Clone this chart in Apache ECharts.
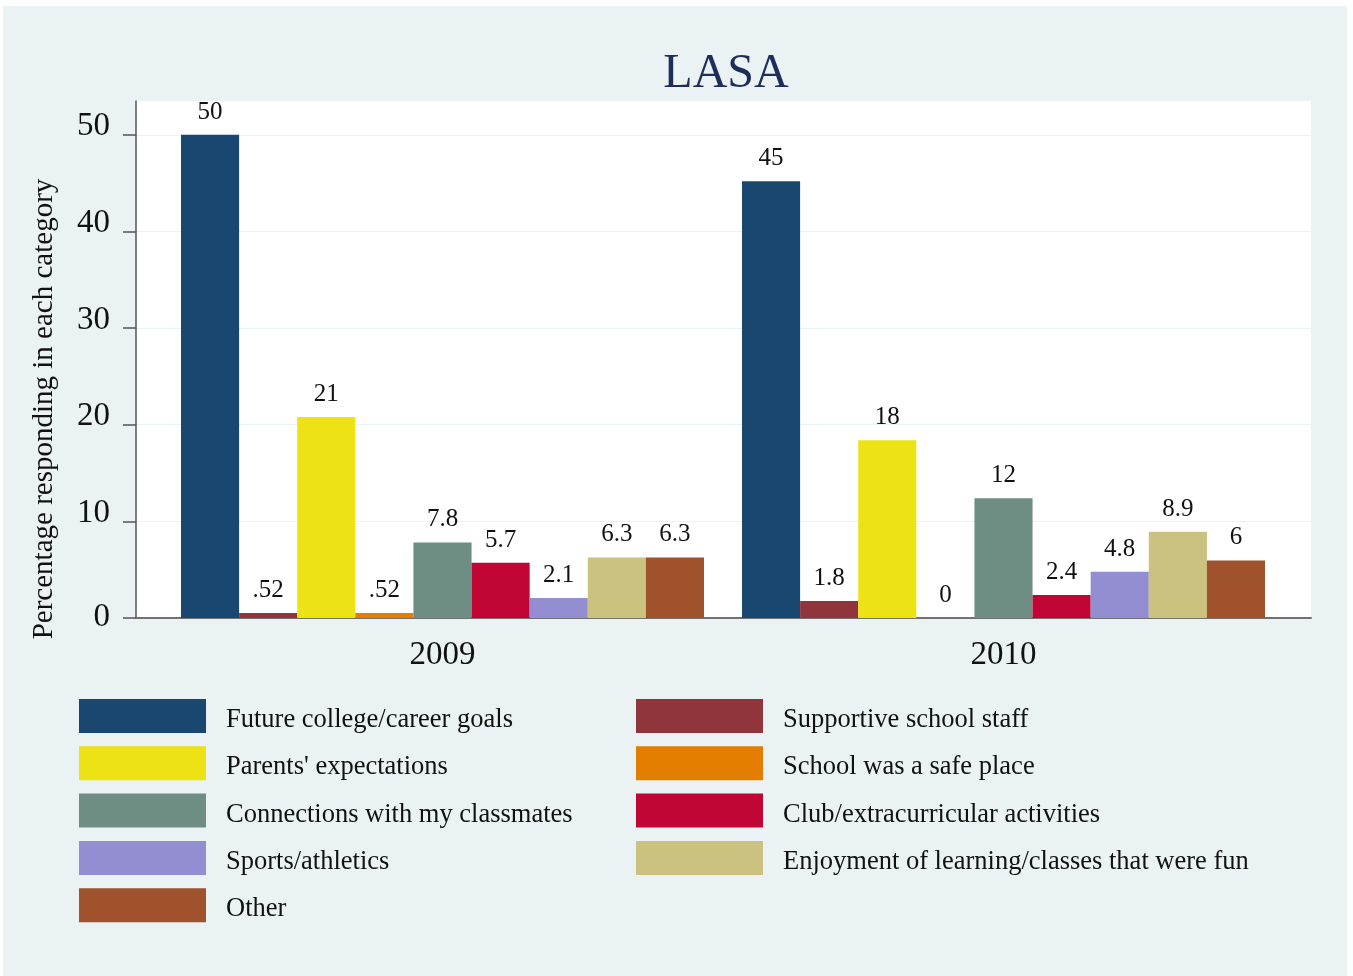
<!DOCTYPE html>
<html>
<head>
<meta charset="utf-8">
<script src="https://cdn.jsdelivr.net/npm/echarts@6/dist/echarts.min.js"></script>
<style>
  html, body { margin: 0; padding: 0; background: #fff; }
  #bg { position: absolute; left: 3px; top: 6px; width: 1344px; height: 970px; background: #EAF2F3; }
  #main { position: absolute; left: 0; top: 0; width: 1353px; height: 976px; }
</style>
</head>
<body>
<div id="bg"></div>
<div id="main"></div>
<script>
// 数据
var years = ['2009', '2010'];
var yTicks = [0, 10, 20, 30, 40, 50];
var seriesNames = [
    'Future college/career goals',
    'Supportive school staff',
    "Parents' expectations",
    'School was a safe place',
    'Connections with my classmates',
    'Club/extracurricular activities',
    'Sports/athletics',
    'Enjoyment of learning/classes that were fun',
    'Other'
];
var collegeGoals = [50.0, 45.2];
var schoolStaff = [0.52, 1.76];
var parents = [20.8, 18.4];
var safePlace = [0.52, 0];
var classmates = [7.82, 12.4];
var clubs = [5.72, 2.38];
var sports = [2.08, 4.78];
var enjoyment = [6.27, 8.92];
var other = [6.27, 5.96];

var seriesValues = [collegeGoals, schoolStaff, parents, safePlace, classmates, clubs, sports, enjoyment, other];
var colors = ['#1A476F', '#90353B', '#EDE213', '#E37E00', '#6E8E84', '#C10534', '#938DD2', '#CAC27E', '#A0522D'];

var serif = 'Liberation Serif';
var yMax = 53.5;

// 类似 Stata 的 %9.2g 格式
function fmt(v) {
    if (v === 0) return '0';
    var s = String(Number(v.toPrecision(2)));
    return s.replace(/^0\./, '.');
}

var myChart = echarts.init(document.getElementById('main'));

var series = seriesNames.map(function (name, i) {
    return {
        name: name,
        type: 'bar',
        xAxisIndex: 1,
        yAxisIndex: 1,
        barGap: '0%',
        barCategoryGap: '6.77%',
        itemStyle: { color: colors[i] },
        label: {
            show: true,
            position: 'top',
            distance: 10,
            color: '#111',
            fontFamily: serif,
            fontSize: 25,
            formatter: function (p) { return fmt(p.value); }
        },
        emphasis: { disabled: true },
        data: seriesValues[i]
    };
});

var legendText = {
    fontFamily: serif, fontSize: 26.5, color: '#111',
    rich: { t: { fontFamily: serif, fontSize: 26.5, color: '#111', padding: [8, 0, 0, 15] } }
};
function legendFmt(name) { return '{t|' + name + '}'; }

myChart.setOption({
    animation: false,
    backgroundColor: 'transparent',
    title: {
        text: 'LASA',
        left: 726,
        textAlign: 'center',
        top: 50,
        padding: 0,
        textStyle: { fontFamily: serif, fontSize: 48, fontWeight: 'normal', color: '#1E2D5A' }
    },
    graphic: [{
        type: 'text',
        x: 44,
        y: 409,
        rotation: Math.PI / 2,
        style: {
            text: 'Percentage responding in each category',
            fontFamily: serif,
            fontSize: 29,
            fill: '#111',
            align: 'center',
            verticalAlign: 'middle'
        }
    }],
    legend: [{
        orient: 'vertical',
        left: 79,
        top: 699,
        padding: 0,
        itemWidth: 127,
        itemHeight: 34,
        itemGap: 12.8,
        icon: 'rect',
        selectedMode: false,
        textStyle: legendText,
        formatter: legendFmt,
        data: [seriesNames[0], seriesNames[2], seriesNames[4], seriesNames[6], seriesNames[8]]
    }, {
        orient: 'vertical',
        left: 636,
        top: 699,
        padding: 0,
        itemWidth: 127,
        itemHeight: 34,
        itemGap: 12.8,
        icon: 'rect',
        selectedMode: false,
        textStyle: legendText,
        formatter: legendFmt,
        data: [seriesNames[1], seriesNames[3], seriesNames[5], seriesNames[7]]
    }],
    grid: [{
        left: 136, top: 101, width: 1175, height: 517,
        show: true, backgroundColor: '#fff', borderWidth: 0
    }, {
        left: 162, top: 101, width: 1122, height: 517
    }],
    xAxis: [{
        gridIndex: 0,
        type: 'category',
        data: years,
        axisLine: { show: true, lineStyle: { color: '#707070', width: 2 } },
        axisTick: { show: false },
        axisLabel: { show: false }
    }, {
        gridIndex: 1,
        type: 'category',
        data: years,
        axisLine: { show: false },
        axisTick: { show: false },
        axisLabel: { fontFamily: serif, fontSize: 33, color: '#111', margin: 21 }
    }],
    yAxis: [{
        gridIndex: 0,
        type: 'value',
        min: 0,
        max: yMax,
        interval: 10,
        axisLine: { show: true, lineStyle: { color: '#555', width: 1.5 } },
        axisTick: { show: true, length: 13, lineStyle: { color: '#555', width: 1.5 }, customValues: yTicks },
        axisLabel: {
            customValues: yTicks,
            margin: 26,
            fontFamily: serif,
            fontSize: 33,
            color: '#111',
            formatter: function (v) { return v === 0 ? '{z|0}' : '{n|' + v + '}'; },
            rich: {
                z: { fontFamily: serif, fontSize: 33, color: '#111', padding: [0, 0, 1, 0] },
                n: { fontFamily: serif, fontSize: 33, color: '#111', padding: [0, 0, 16, 0] }
            }
        },
        splitLine: { show: true, lineStyle: { color: '#EAF2F3', width: 1 } }
    }, {
        gridIndex: 1,
        type: 'value',
        min: 0,
        max: yMax,
        show: false
    }],
    series: series
});
</script>
</body>
</html>
